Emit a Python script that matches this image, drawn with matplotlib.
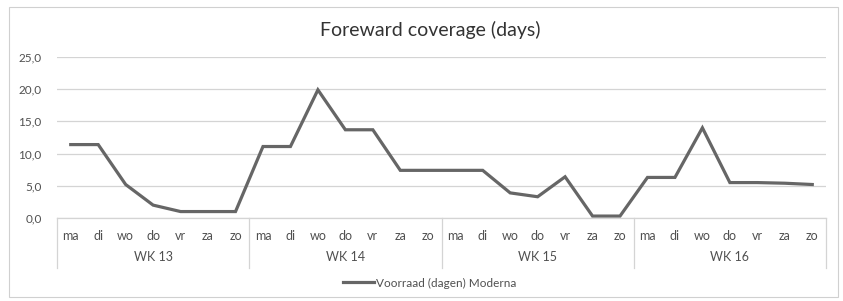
import numpy as np
import matplotlib
matplotlib.use("Agg")
import matplotlib.pyplot as plt
from matplotlib.patches import Rectangle
import matplotlib.transforms as mtransforms

# ------------------- DATA -------------------
dagen = ["ma", "di", "wo", "do", "vr", "za", "zo"]
weken = ["WK 13", "WK 14", "WK 15", "WK 16"]
voorraad = [
    11.4, 11.4, 5.2, 2.0, 1.0, 1.0, 1.0,      # WK 13
    11.1, 11.1, 19.9, 13.7, 13.7, 7.4, 7.4,   # WK 14
    7.4, 7.4, 3.9, 3.3, 6.4, 0.3, 0.3,        # WK 15
    6.3, 6.3, 14.0, 5.5, 5.5, 5.4, 5.2,       # WK 16
]
y_ticks = [0, 5, 10, 15, 20, 25]

tekst_kleur = "#505050"
lijn_kleur = "#666666"
grid_kleur = "#d4d4d4"

plt.rcParams['font.family'] = ['Lato', 'DejaVu Sans']

# ------------------- PLOTTEN -------------------
fig = plt.figure(figsize=(8.43, 3.01), dpi=100)
W, H = 843, 301

# rand rond de grafiek
fig.patches.append(Rectangle((9 / W, 1 - 297 / H), (838 - 9) / W, (297 - 7) / H,
                             transform=fig.transFigure, fill=False,
                             edgecolor="#d0d0d0", linewidth=0.8))

ax = fig.add_axes([57 / W, 1 - 218 / H, (826 - 57) / W, (218 - 57) / H])

x = np.arange(len(voorraad))
ax.plot(x, voorraad, color=lijn_kleur, linewidth=2.3, solid_joinstyle="miter",
        label="Voorraad (dagen) Moderna")

ax.set_xlim(-0.5, len(voorraad) - 0.5)
ax.set_ylim(0, 25)
ax.set_yticks(y_ticks)
ax.set_yticklabels([f"{v:.1f}".replace(".", ",") for v in y_ticks],
                   color=tekst_kleur, fontsize=8.5)
ax.tick_params(axis="y", length=0, pad=11)
ax.set_xticks([])
ax.grid(axis="y", color=grid_kleur, linewidth=0.9)
ax.set_axisbelow(True)
for s in ["top", "right", "left"]:
    ax.spines[s].set_visible(False)
ax.spines["bottom"].set_color(grid_kleur)
ax.spines["bottom"].set_linewidth(0.9)

# categorie-labels in twee niveaus
trans = mtransforms.blended_transform_factory(ax.transData, fig.transFigure)
y_dag = 1 - 236 / H
y_week = 1 - 257 / H
y_sep_top = 1 - 218 / H
y_sep_bot = 1 - 268 / H
for i in range(len(voorraad)):
    ax.text(i, y_dag, dagen[i % 7], transform=trans, ha="center", va="center",
            color=tekst_kleur, fontsize=9, clip_on=False)
for w, naam in enumerate(weken):
    ax.text(w * 7 + 3, y_week, naam, transform=trans, ha="center", va="center",
            color=tekst_kleur, fontsize=9, clip_on=False)
for w in range(len(weken) + 1):
    ax.plot([w * 7 - 0.5, w * 7 - 0.5], [y_sep_top, y_sep_bot], transform=trans,
            color=grid_kleur, linewidth=0.9, clip_on=False)

fig.text(430 / W, 1 - 30 / H, "Foreward coverage (days)", ha="center", va="center",
         color="#333333", fontsize=14)

ax.legend(loc="center", bbox_to_anchor=(430 / W, 1 - 283 / H),
          bbox_transform=fig.transFigure, frameon=False, fontsize=8.5,
          labelcolor=tekst_kleur, handlelength=2.6, handletextpad=0.2)

fig.savefig("out.png", dpi=100, facecolor="white")
